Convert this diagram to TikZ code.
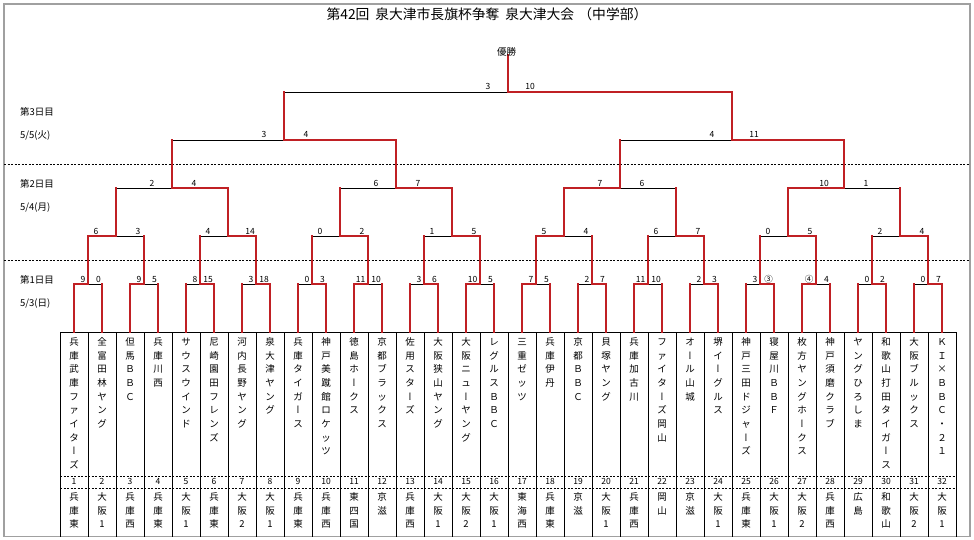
\documentclass[tikz,border=0pt]{standalone}
\usepackage{fontspec}
\setmainfont{Noto Sans CJK JP}
\newfontfamily\vjp[RawFeature=+vert]{Noto Sans CJK JP}
\usetikzlibrary{calc}
\definecolor{brk}{RGB}{192,32,36}
\definecolor{frm}{RGB}{160,160,160}
\makeatletter
\def\vtext#1{\vtop{\baselineskip=13.7pt\lineskiplimit=-20pt\lineskip=0pt\edef\vt@arg{#1}\expandafter\vt@loop\vt@arg\@nil}}
\def\vt@loop#1{\ifx\@nil#1\else\hbox to 16pt{\hss\vt@char{#1}\hss}\expandafter\vt@loop\fi}
\def\vt@char#1{\ifx ー#1{\vjp ー}\else #1\fi}
\makeatother
\tikzset{
 win/.style={draw=brk, line width=2.9pt, line cap=rect, line join=miter},
 lose/.style={draw=black, line width=0.8pt},
 sc/.style={font=\fontsize{8.5}{10}\selectfont, inner sep=0pt},
 nm/.style={font=\fontsize{9.5}{13.7}\selectfont, inner sep=0pt, anchor=base},
 num/.style={font=\fontsize{8.5}{10}\selectfont, inner sep=0pt},
 lbl/.style={font=\fontsize{9.5}{11}\selectfont, inner sep=0pt, anchor=west},
 dotline/.style={line width=0.9pt, dash pattern=on 2pt off 1.5pt},
 tline/.style={line width=0.8pt},
 tdash/.style={line width=0.8pt, dash pattern=on 2pt off 1.5pt},
}
% #1 center, #2 left child, #3 right child, #4 winner (1 left / 2 right), #5 left score, #6 right score, #7 round type
\newcommand\gm[7]{%
  \ifnum#4=1
    \draw[lose] (#3 |- #1) -- (#1);
    \draw[win] (#2) -- (#2 |- #1) -- (#1);
    \draw[win] (#3) -- (#3 |- #1);
  \else
    \draw[lose] (#2 |- #1) -- (#1);
    \draw[win] (#3) -- (#3 |- #1) -- (#1);
    \draw[win] (#2) -- (#2 |- #1);
  \fi
  \ifnum#7=1
    \node[sc, anchor=base east] (#1L) at ([shift={(-2.5,-2)}]#1) {#5};
    \node[sc, anchor=base east] (#1R) at ([shift={(13,-2)}]#1) {#6};
  \else
    \node[sc, anchor=base] (#1L) at ([shift={(-20,-2)}]#1) {#5};
    \node[sc, anchor=base] (#1R) at ([shift={(22,-2)}]#1) {#6};
  \fi
}
\begin{document}
\begin{tikzpicture}[x=1pt,y=-1pt]
\useasboundingbox (0,0) rectangle (974,540);
\fill[white] (0,0) rectangle (974,540);
\draw[frm, line width=1.2pt] (4,4) rectangle (970,536.5);
\node[font=\fontsize{13.8}{16}\selectfont, inner sep=0pt] (title) at (487,14) {第42回\hspace{0.42em}泉大津市長旗杯争奪\hspace{0.42em}泉大津大会\hspace{0.3em}（中学部）};
% day separators
\draw[dotline] (4,164) -- (970,164);
\draw[dotline] (4,260) -- (970,260);
% day labels
\node[lbl] (d3a) at (20,111.7) {第3日目};
\node[lbl] (d3b) at (20,136) {5/5(火)};
\node[lbl] (d2a) at (20,184) {第2日目};
\node[lbl] (d2b) at (20,207.5) {5/4(月)};
\node[lbl] (d1a) at (20,279.5) {第1日目};
\node[lbl] (d1b) at (20,303.5) {5/3(日)};
% table
\draw[tline] (60,332) -- (956,332);
\foreach \k in {0,...,32} \draw[tline] ({60+28*\k},332) -- ({60+28*\k},536.5);
\draw[tdash] (60,476) -- (956,476);
\draw[tdash] (60,488.5) -- (956,488.5);
\foreach \i/\n/\r in {1/兵庫武庫ファイターズ/兵庫東,2/全富田林ヤング/大阪1,3/但馬ＢＢＣ/兵庫西,4/兵庫川西/兵庫東,
 5/サウスウインド/大阪1,6/尼崎園田フレンズ/兵庫東,7/河内長野ヤング/大阪2,8/泉大津ヤング/大阪1,
 9/兵庫タイガース/兵庫東,10/神戸美蹴館ロケッツ/兵庫西,11/徳島ホークス/東四国,12/京都ブラックス/京滋,
 13/佐用スターズ/兵庫西,14/大阪狭山ヤング/大阪1,15/大阪ニューヤング/大阪2,16/レグルスＢＢＣ/大阪1,
 17/三重ゼッツ/東海西,18/兵庫伊丹/兵庫東,19/京都ＢＢＣ/京滋,20/貝塚ヤング/大阪1,
 21/兵庫加古川/兵庫西,22/ファイターズ岡山/岡山,23/オール山城/京滋,24/堺イーグルス/大阪1,
 25/神戸三田ドジャーズ/兵庫東,26/寝屋川ＢＢＦ/大阪1,27/枚方ヤングホークス/大阪2,28/神戸須磨クラブ/兵庫西,
 29/ヤングひろしま/広島,30/和歌山打田タイガース/和歌山,31/大阪ブルックス/大阪2,32/ＫＩ×ＢＢＣ・２１/大阪1}{
  \node[nm] (n\i) at ({46+28*\i},345.3) {\vtext{\n}};
  \node[num] (k\i) at ({46+28*\i},481.6) {\i};
  \node[nm] (g\i) at ({46+28*\i},500.3) {\vtext{\r}};
}
% bracket coordinates
\foreach \i in {1,...,32} {\coordinate (t\i) at ({46+28*\i},332);}
\foreach \j in {1,...,16} {\coordinate (a\j) at ({32+56*\j},284);}
\foreach \j in {1,...,8} {\coordinate (b\j) at ({4+112*\j},236);}
\foreach \j in {1,...,4} {\coordinate (c\j) at ({-52+224*\j},188);}
\foreach \j in {1,2} {\coordinate (d\j) at ({-164+448*\j},140);}
\coordinate (f) at (508,92);
\coordinate (champ) at (508,55);
% round 1
\gm{a1}{t1}{t2}{1}{9}{0}{1}
\gm{a2}{t3}{t4}{1}{9}{5}{1}
\gm{a3}{t5}{t6}{2}{8}{15}{1}
\gm{a4}{t7}{t8}{2}{3}{18}{1}
\gm{a5}{t9}{t10}{2}{0}{3}{1}
\gm{a6}{t11}{t12}{1}{11}{10}{1}
\gm{a7}{t13}{t14}{2}{3}{6}{1}
\gm{a8}{t15}{t16}{1}{10}{5}{1}
\gm{a9}{t17}{t18}{1}{7}{5}{1}
\gm{a10}{t19}{t20}{2}{2}{7}{1}
\gm{a11}{t21}{t22}{1}{11}{10}{1}
\gm{a12}{t23}{t24}{2}{2}{3}{1}
\gm{a13}{t25}{t26}{2}{3}{③}{1}
\gm{a14}{t27}{t28}{1}{④}{4}{1}
\gm{a15}{t29}{t30}{2}{0}{2}{1}
\gm{a16}{t31}{t32}{2}{0}{7}{1}
% round 2
\gm{b1}{a1}{a2}{1}{6}{3}{2}
\gm{b2}{a3}{a4}{2}{4}{14}{2}
\gm{b3}{a5}{a6}{2}{0}{2}{2}
\gm{b4}{a7}{a8}{2}{1}{5}{2}
\gm{b5}{a9}{a10}{1}{5}{4}{2}
\gm{b6}{a11}{a12}{2}{6}{7}{2}
\gm{b7}{a13}{a14}{2}{0}{5}{2}
\gm{b8}{a15}{a16}{2}{2}{4}{2}
% quarter finals
\gm{c1}{b1}{b2}{2}{2}{4}{2}
\gm{c2}{b3}{b4}{2}{6}{7}{2}
\gm{c3}{b5}{b6}{1}{7}{6}{2}
\gm{c4}{b7}{b8}{1}{10}{1}{2}
% semi finals
\gm{d1}{c1}{c2}{2}{3}{4}{2}
\gm{d2}{c3}{c4}{2}{4}{11}{2}
% final
\gm{f}{d1}{d2}{2}{3}{10}{2}
\draw[win] (f) -- (champ);
\node[lbl, anchor=center] (win) at (506.5,51.5) {優勝};
\end{tikzpicture}
\end{document}
